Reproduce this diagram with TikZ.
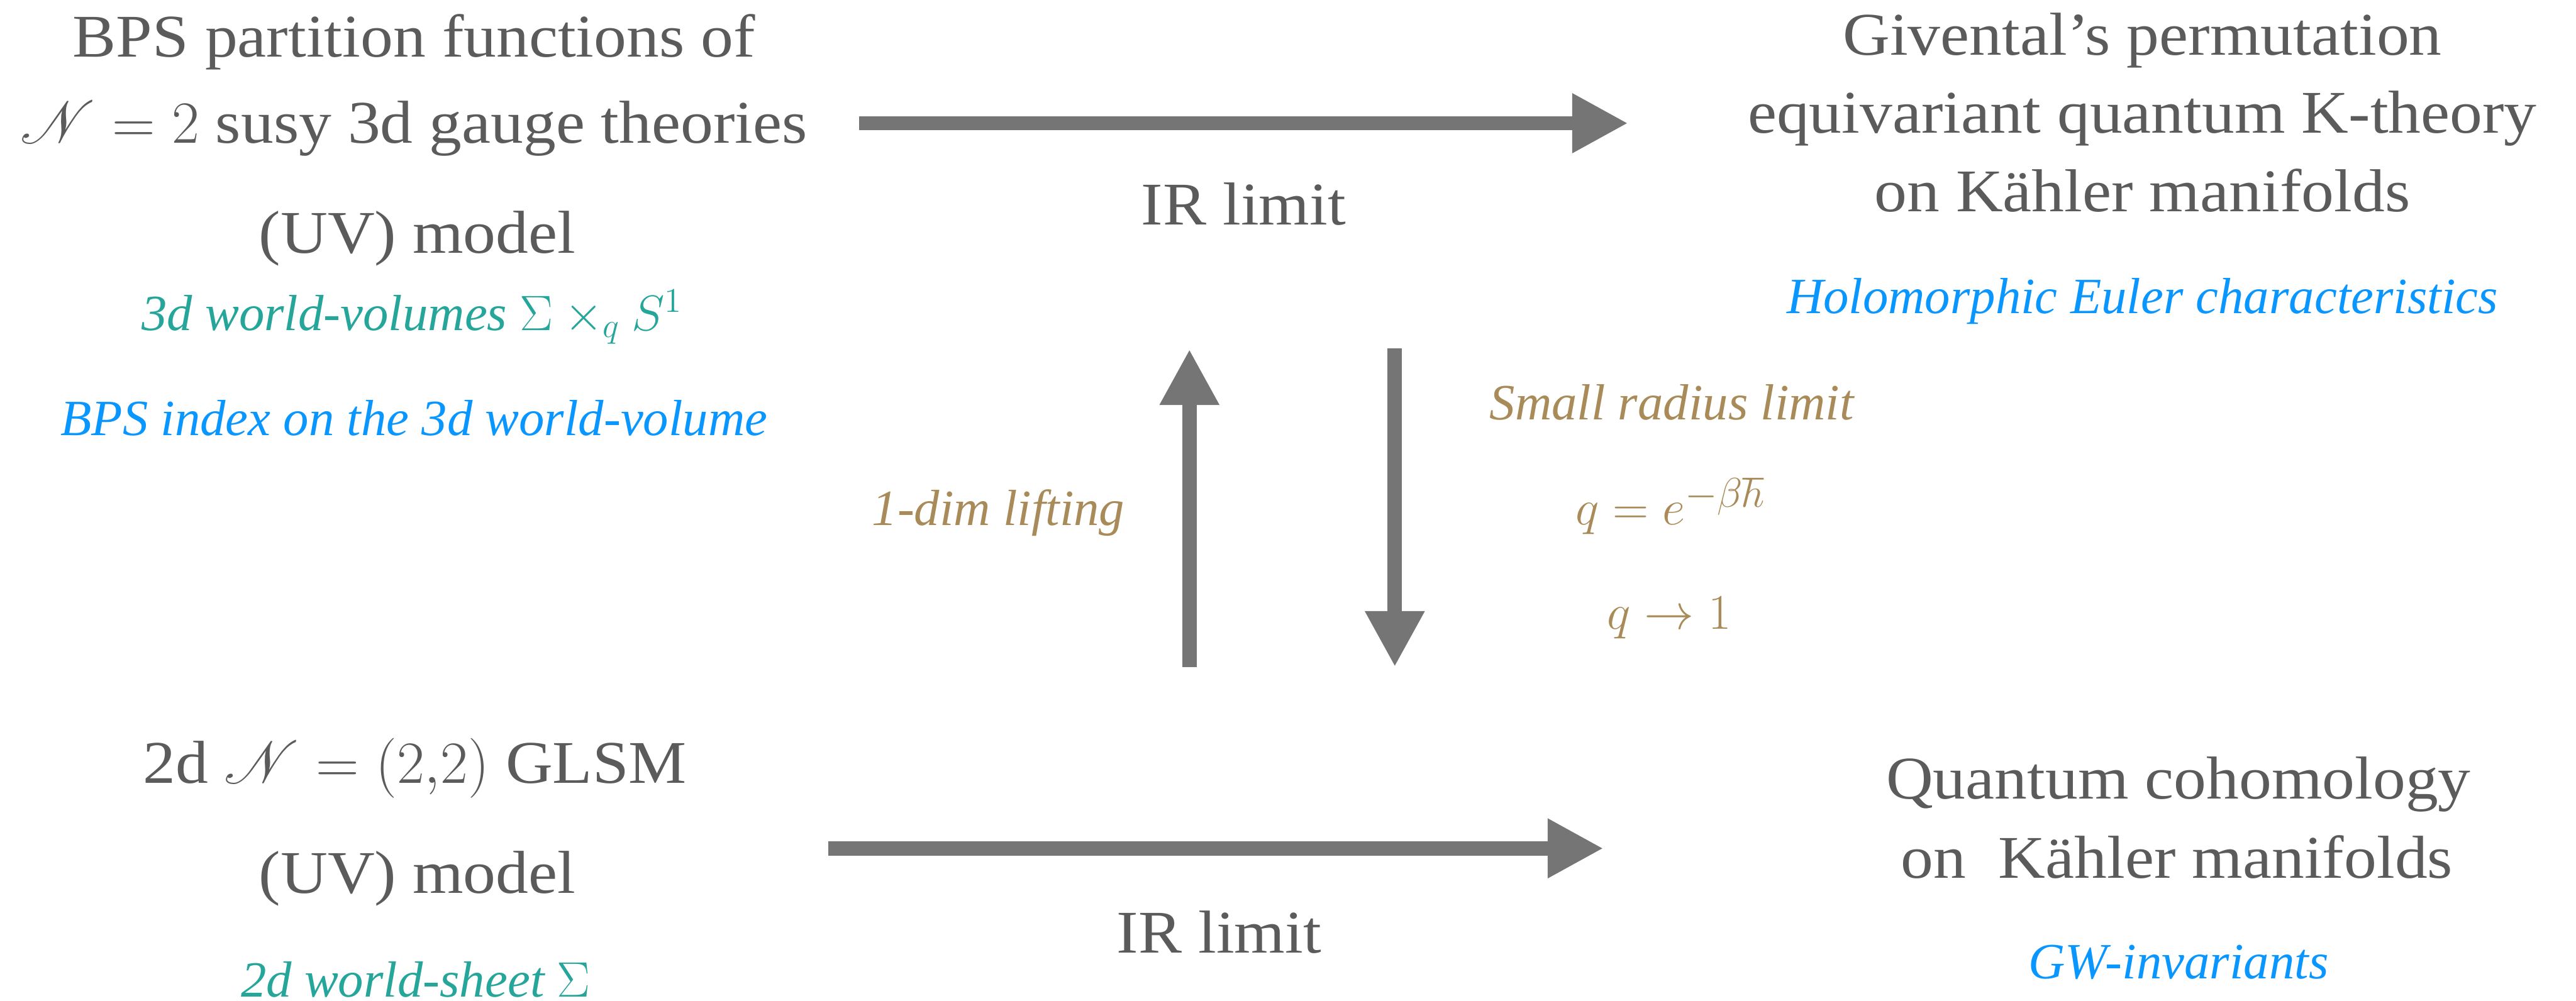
\documentclass[tikz,border=0pt]{standalone}
\usepackage{fontspec}
\usepackage{mathrsfs}
\setmainfont{Liberation Serif}[FakeStretch=1.075]
\newfontfamily\notefont{Liberation Serif}
\usetikzlibrary{arrows.meta}
\definecolor{txtgrey}{HTML}{5B5B5B}
\definecolor{arrgrey}{HTML}{747574}
\definecolor{teal2}{HTML}{26A69A}
\definecolor{blue2}{HTML}{0A96FF}
\definecolor{brown2}{HTML}{A88B58}
\tikzset{
  main/.style={anchor=base, inner sep=0pt, text=txtgrey, font=\fontsize{21}{25}\selectfont},
  note/.style={anchor=base, inner sep=0pt, font=\notefont\fontsize{17.6}{21}\selectfont\itshape},
  tealnote/.style={note, text=teal2},
  bluenote/.style={note, text=blue2},
  brownnote/.style={note, text=brown2},
  brownmath/.style={anchor=base, inner sep=0pt, text=brown2, font=\notefont\fontsize{19}{22}\selectfont},
  bigarrow/.style={draw=arrgrey, line width=0.175cm, -{Triangle[length=0.68cm,width=0.68cm,fill=arrgrey]}},
}
\begin{document}
\begin{tikzpicture}[x=0.02cm,y=-0.02cm]
\useasboundingbox (0,0) rectangle (1568,609.3);
% top left
\node[main] (tl1) at (252,34.6) {BPS partition functions of};
\node[main] (tl2) at (252,87) {$\mathscr{N}=2$ susy 3d gauge theories};
\node[main] (tl3) at (254,154) {(UV) model};
\node[tealnote] (tl4) at (251,201) {3d world-volumes $\Sigma\times_q S^1$};
\node[bluenote] (tl5) at (252,265) {BPS index on the 3d world-volume};
% top right
\node[main] (tr1) at (1304,33.5) {Givental’s permutation};
\node[main] (tr2) at (1304,81) {equivariant quantum K-theory};
\node[main] (tr3) at (1304,129) {on Kähler manifolds};
\node[bluenote] (tr4) at (1304,191) {Holomorphic Euler characteristics};
% middle labels
\node[main] (ir1) at (757,137) {IR limit};
\node[brownnote] (lift) at (607.7,320) {1-dim lifting};
\node[brownnote] (small) at (1017.6,255.7) {Small radius limit};
\node[brownmath] (qe) at (1017,319.6) {$q=e^{-\beta\hbar}$};
\node[brownmath] (q1) at (1016,383) {$q\to 1$};
\node[main] (ir2) at (742,580) {IR limit};
% bottom left
\node[main] (bl1) at (252.5,476.6) {2d $\mathscr{N}=(2{,}2)$ GLSM};
\node[main] (bl2) at (254,543.8) {(UV) model};
\node[tealnote] (bl3) at (253,607) {2d world-sheet $\Sigma$};
% bottom right
\node[main] (br1) at (1326,486.4) {Quantum cohomology};
\node[main] (br2) at (1325,534.4) {on\ \ Kähler manifolds};
\node[bluenote] (br3) at (1326,596) {GW-invariants};
% arrow end points
\coordinate (topS) at (523,75);
\coordinate (topE) at (991,75);
\coordinate (botS) at (504,516.5);
\coordinate (botE) at (976,516.5);
\coordinate (upS) at (724,406);
\coordinate (upE) at (724,212.6);
\coordinate (dnS) at (849,212);
\coordinate (dnE) at (849,406);
\draw[bigarrow] (topS) -- (topE);
\draw[bigarrow] (botS) -- (botE);
\draw[bigarrow] (upS) -- (upE);
\draw[bigarrow] (dnS) -- (dnE);
\end{tikzpicture}
\end{document}
